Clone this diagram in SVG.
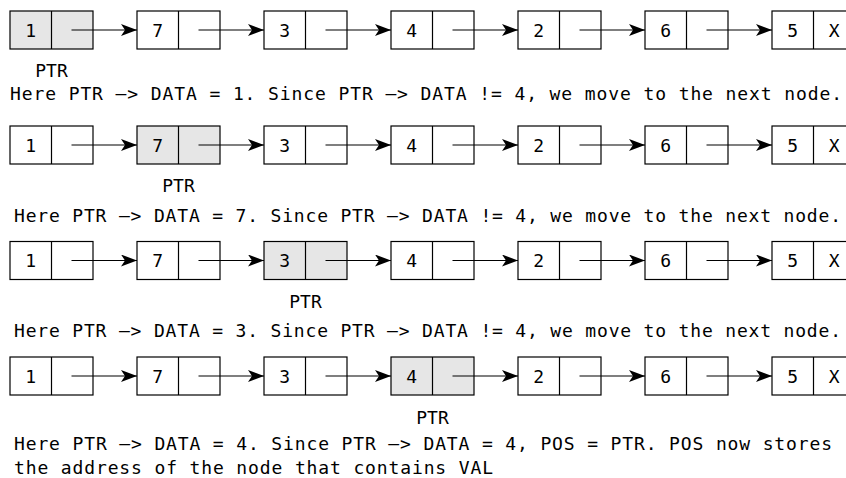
<svg xmlns="http://www.w3.org/2000/svg" width="846" height="478" viewBox="0 0 846 478">
<style>
.b{fill:#ffffff;stroke:#000000;stroke-width:1.2}
.h{fill:#e6e6e6;stroke:#000000;stroke-width:1.2}
.d{stroke:#000000;stroke-width:1.2}
.v{font-family:"DejaVu Sans Mono","Liberation Mono",monospace;font-size:18px;fill:#000000;text-anchor:middle}
.t{font-family:"DejaVu Sans Mono","Liberation Mono",monospace;font-size:18px;fill:#000000}
.p{font-family:"DejaVu Sans Mono","Liberation Mono",monospace;font-size:18px;fill:#000000;text-anchor:middle}
.c{stroke:#000000;stroke-width:1.2;fill:none;marker-end:url(#ah)}
</style>
<defs>
<marker id="ah" markerUnits="userSpaceOnUse" markerWidth="17" markerHeight="12" refX="16" refY="6" orient="auto">
<path d="M0,0 L16,6 L0,12 L4,6 Z" fill="#000000"/>
</marker>
</defs>
<rect width="846" height="478" fill="#ffffff"/>

<!-- Row 1 -->
<g id="r1n1"><rect class="h" x="10" y="11" width="83" height="38"/><line class="d" x1="51.5" y1="11" x2="51.5" y2="49"/><text class="v" x="30.75" y="36.5">1</text></g>
<g id="r1n2"><rect class="b" x="137" y="11" width="83" height="38"/><line class="d" x1="178.5" y1="11" x2="178.5" y2="49"/><text class="v" x="157.75" y="36.5">7</text></g>
<g id="r1n3"><rect class="b" x="264" y="11" width="83" height="38"/><line class="d" x1="305.5" y1="11" x2="305.5" y2="49"/><text class="v" x="284.75" y="36.5">3</text></g>
<g id="r1n4"><rect class="b" x="391" y="11" width="83" height="38"/><line class="d" x1="432.5" y1="11" x2="432.5" y2="49"/><text class="v" x="411.75" y="36.5">4</text></g>
<g id="r1n5"><rect class="b" x="518" y="11" width="83" height="38"/><line class="d" x1="559.5" y1="11" x2="559.5" y2="49"/><text class="v" x="538.75" y="36.5">2</text></g>
<g id="r1n6"><rect class="b" x="645" y="11" width="83" height="38"/><line class="d" x1="686.5" y1="11" x2="686.5" y2="49"/><text class="v" x="665.75" y="36.5">6</text></g>
<g id="r1n7"><rect class="b" x="772" y="11" width="83" height="38"/><line class="d" x1="813.5" y1="11" x2="813.5" y2="49"/><text class="v" x="792.75" y="36.5">5</text><text class="v" x="834.25" y="36.5">X</text></g>
<text class="p" x="51.5" y="77">PTR</text>
<text class="t" x="10" y="100" textLength="832" lengthAdjust="spacing">Here PTR –&gt; DATA = 1. Since PTR –&gt; DATA != 4, we move to the next node.</text>

<!-- Row 2 -->
<g id="r2n1"><rect class="b" x="10" y="126" width="83" height="38"/><line class="d" x1="51.5" y1="126" x2="51.5" y2="164"/><text class="v" x="30.75" y="151.5">1</text></g>
<g id="r2n2"><rect class="h" x="137" y="126" width="83" height="38"/><line class="d" x1="178.5" y1="126" x2="178.5" y2="164"/><text class="v" x="157.75" y="151.5">7</text></g>
<g id="r2n3"><rect class="b" x="264" y="126" width="83" height="38"/><line class="d" x1="305.5" y1="126" x2="305.5" y2="164"/><text class="v" x="284.75" y="151.5">3</text></g>
<g id="r2n4"><rect class="b" x="391" y="126" width="83" height="38"/><line class="d" x1="432.5" y1="126" x2="432.5" y2="164"/><text class="v" x="411.75" y="151.5">4</text></g>
<g id="r2n5"><rect class="b" x="518" y="126" width="83" height="38"/><line class="d" x1="559.5" y1="126" x2="559.5" y2="164"/><text class="v" x="538.75" y="151.5">2</text></g>
<g id="r2n6"><rect class="b" x="645" y="126" width="83" height="38"/><line class="d" x1="686.5" y1="126" x2="686.5" y2="164"/><text class="v" x="665.75" y="151.5">6</text></g>
<g id="r2n7"><rect class="b" x="772" y="126" width="83" height="38"/><line class="d" x1="813.5" y1="126" x2="813.5" y2="164"/><text class="v" x="792.75" y="151.5">5</text><text class="v" x="834.25" y="151.5">X</text></g>
<text class="p" x="178.5" y="192">PTR</text>
<text class="t" x="14" y="221.5" textLength="827" lengthAdjust="spacing">Here PTR –&gt; DATA = 7. Since PTR –&gt; DATA != 4, we move to the next node.</text>

<!-- Row 3 -->
<g id="r3n1"><rect class="b" x="10" y="241.5" width="83" height="38"/><line class="d" x1="51.5" y1="241.5" x2="51.5" y2="279.5"/><text class="v" x="30.75" y="267">1</text></g>
<g id="r3n2"><rect class="b" x="137" y="241.5" width="83" height="38"/><line class="d" x1="178.5" y1="241.5" x2="178.5" y2="279.5"/><text class="v" x="157.75" y="267">7</text></g>
<g id="r3n3"><rect class="h" x="264" y="241.5" width="83" height="38"/><line class="d" x1="305.5" y1="241.5" x2="305.5" y2="279.5"/><text class="v" x="284.75" y="267">3</text></g>
<g id="r3n4"><rect class="b" x="391" y="241.5" width="83" height="38"/><line class="d" x1="432.5" y1="241.5" x2="432.5" y2="279.5"/><text class="v" x="411.75" y="267">4</text></g>
<g id="r3n5"><rect class="b" x="518" y="241.5" width="83" height="38"/><line class="d" x1="559.5" y1="241.5" x2="559.5" y2="279.5"/><text class="v" x="538.75" y="267">2</text></g>
<g id="r3n6"><rect class="b" x="645" y="241.5" width="83" height="38"/><line class="d" x1="686.5" y1="241.5" x2="686.5" y2="279.5"/><text class="v" x="665.75" y="267">6</text></g>
<g id="r3n7"><rect class="b" x="772" y="241.5" width="83" height="38"/><line class="d" x1="813.5" y1="241.5" x2="813.5" y2="279.5"/><text class="v" x="792.75" y="267">5</text><text class="v" x="834.25" y="267">X</text></g>
<text class="p" x="305.5" y="308">PTR</text>
<text class="t" x="14" y="336.5" textLength="827" lengthAdjust="spacing">Here PTR –&gt; DATA = 3. Since PTR –&gt; DATA != 4, we move to the next node.</text>

<!-- Row 4 -->
<g id="r4n1"><rect class="b" x="10" y="357" width="83" height="38"/><line class="d" x1="51.5" y1="357" x2="51.5" y2="395"/><text class="v" x="30.75" y="382.5">1</text></g>
<g id="r4n2"><rect class="b" x="137" y="357" width="83" height="38"/><line class="d" x1="178.5" y1="357" x2="178.5" y2="395"/><text class="v" x="157.75" y="382.5">7</text></g>
<g id="r4n3"><rect class="b" x="264" y="357" width="83" height="38"/><line class="d" x1="305.5" y1="357" x2="305.5" y2="395"/><text class="v" x="284.75" y="382.5">3</text></g>
<g id="r4n4"><rect class="h" x="391" y="357" width="83" height="38"/><line class="d" x1="432.5" y1="357" x2="432.5" y2="395"/><text class="v" x="411.75" y="382.5">4</text></g>
<g id="r4n5"><rect class="b" x="518" y="357" width="83" height="38"/><line class="d" x1="559.5" y1="357" x2="559.5" y2="395"/><text class="v" x="538.75" y="382.5">2</text></g>
<g id="r4n6"><rect class="b" x="645" y="357" width="83" height="38"/><line class="d" x1="686.5" y1="357" x2="686.5" y2="395"/><text class="v" x="665.75" y="382.5">6</text></g>
<g id="r4n7"><rect class="b" x="772" y="357" width="83" height="38"/><line class="d" x1="813.5" y1="357" x2="813.5" y2="395"/><text class="v" x="792.75" y="382.5">5</text><text class="v" x="834.25" y="382.5">X</text></g>
<text class="p" x="432.5" y="424">PTR</text>
<text class="t" x="14" y="450" textLength="818" lengthAdjust="spacing">Here PTR –&gt; DATA = 4. Since PTR –&gt; DATA = 4, POS = PTR. POS now stores</text>
<text class="t" x="14" y="474" textLength="479" lengthAdjust="spacing">the address of the node that contains VAL</text>

<g id="connectors">
<line class="c" x1="71.5" y1="30" x2="137" y2="30"/>
<line class="c" x1="198.5" y1="30" x2="264" y2="30"/>
<line class="c" x1="325.5" y1="30" x2="391" y2="30"/>
<line class="c" x1="452.5" y1="30" x2="518" y2="30"/>
<line class="c" x1="579.5" y1="30" x2="645" y2="30"/>
<line class="c" x1="706.5" y1="30" x2="772" y2="30"/>

<line class="c" x1="71.5" y1="145" x2="137" y2="145"/>
<line class="c" x1="198.5" y1="145" x2="264" y2="145"/>
<line class="c" x1="325.5" y1="145" x2="391" y2="145"/>
<line class="c" x1="452.5" y1="145" x2="518" y2="145"/>
<line class="c" x1="579.5" y1="145" x2="645" y2="145"/>
<line class="c" x1="706.5" y1="145" x2="772" y2="145"/>

<line class="c" x1="71.5" y1="260.5" x2="137" y2="260.5"/>
<line class="c" x1="198.5" y1="260.5" x2="264" y2="260.5"/>
<line class="c" x1="325.5" y1="260.5" x2="391" y2="260.5"/>
<line class="c" x1="452.5" y1="260.5" x2="518" y2="260.5"/>
<line class="c" x1="579.5" y1="260.5" x2="645" y2="260.5"/>
<line class="c" x1="706.5" y1="260.5" x2="772" y2="260.5"/>

<line class="c" x1="71.5" y1="376" x2="137" y2="376"/>
<line class="c" x1="198.5" y1="376" x2="264" y2="376"/>
<line class="c" x1="325.5" y1="376" x2="391" y2="376"/>
<line class="c" x1="452.5" y1="376" x2="518" y2="376"/>
<line class="c" x1="579.5" y1="376" x2="645" y2="376"/>
<line class="c" x1="706.5" y1="376" x2="772" y2="376"/>
</g>
</svg>
